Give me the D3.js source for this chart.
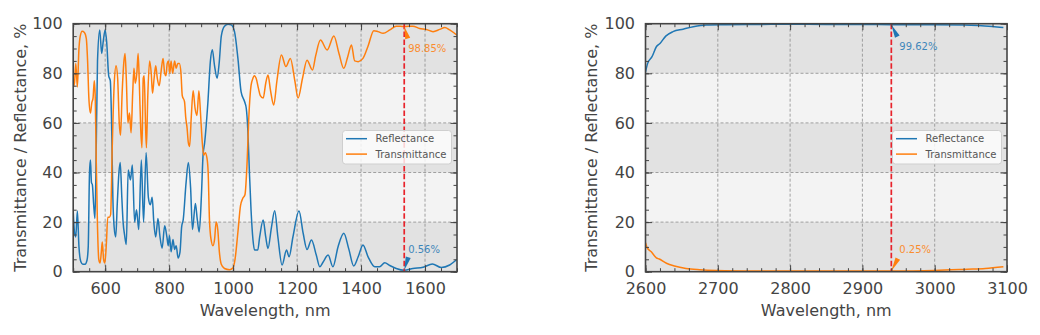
<!DOCTYPE html>
<html><head><meta charset="utf-8">
<script src="https://cdn.jsdelivr.net/npm/d3@7"></script>
<style>body{margin:0;background:#fff;} svg{display:block;font-family:"DejaVu Sans",sans-serif;}</style>
</head><body><svg id="chart" width="1040" height="335"></svg>
<script>
// ---------- DATA ----------
const seriesNames = ["Reflectance", "Transmittance"];
const yTicks = [0, 20, 40, 60, 80, 100];
const visTicks = [600, 800, 1000, 1200, 1400, 1600];
const irTicks = [2600, 2700, 2800, 2900, 3000, 3100];

const visReflWl = [500,504,508,513,518,524,530,537,543,547,551,554,557,560,564,568,571,576,583,589,594,600,605,611,616,620,624,628,633,638,643,647,652,656,661,666,672,679,685,692,698,705,713,720,728,735,741,747,752,758,765,771,778,786,793,797,801,806,812,817,822,828,834,839,844,853,860,867,873,882,888,894,901,906,911,921,929,935,942,950,957,963,973,984,994,1004,1015,1025,1036,1041,1046,1051,1056,1062,1067,1077,1083,1094,1102,1109,1120,1130,1140,1153,1167,1175,1187,1206,1219,1231,1245,1260,1271,1281,1297,1312,1328,1346,1362,1377,1391,1406,1422,1443,1458,1474,1490,1510,1535,1562,1594,1623,1651,1677,1700];
const visReflPct = [24.5,16,14,24.5,10,4,3,3,4.5,10,40,45,36,35,27,21.5,40,85,97.5,88,93,97.5,92,79,77,60,30,18,14,28,40,44,30,20,14.5,11,41,37,43,20,25,17,45,20,48,30,27,30,20,14,21.5,14.5,9.5,18.5,14,10.5,14.5,8,13,9,10.5,5.5,8,18,21,36,44,34,17,27.5,21,16,31,47,52,68,85,89.5,83,78,85,95,99,99.8,99.5,97,86,72.5,68.5,66,57,40,25,13,8.7,8.7,14,20.8,14,9.4,18,24.6,14,2.7,8.7,6,14,24.5,15.5,9,12.8,6.7,2,3.8,6.7,2,10,15.5,9,2.3,6,10.8,6,2,2,3.6,2.5,1.3,0.56,1.3,1.8,3.1,1.7,2.7,5];

const visTransWl = [500,504,508,513,518,522,528,535,541,545,549,554,558,562,566,569,572,576,580,584,588,591,595,599,604,608,613,617,622,628,634,639,644,648,653,658,662,666,671,676,681,686,690,694,699,703,707,711,715,719,722,726,729,733,739,744,748,753,758,763,769,775,781,786,790,794,798,802,806,811,817,822,827,832,837,841,848,852,856,860,864,869,875,881,887,893,898,902,908,913,918,922,926,931,937,942,947,952,957,963,973,989,999,1006,1015,1023,1030,1037,1044,1049,1056,1062,1066,1072,1079,1085,1094,1102,1109,1117,1127,1137,1151,1165,1179,1193,1203,1217,1231,1248,1258,1273,1294,1315,1331,1346,1359,1370,1380,1391,1406,1422,1440,1453,1469,1490,1510,1535,1562,1583,1604,1625,1646,1662,1677,1700];
const visTransPct = [74.5,76,84,74.5,90,95,97,96.5,94,85,70,64,68,70,77,70,45,18,5,3.5,8,12,5,3.5,12,22,22,23,50,75,83,78,60,55,72,84,88,78,60,64,56,72,82,76,80,88,75,58,50,78,79,60,50,70,85,80,72,78,83,78,75,81,86,80,79,84,85,80,85,80,85,82,84,84,80,71,68.6,62,58,52,50.5,62,73,66,63,73,64,55,47,48,46,40,21,13,10.5,13,20,17,8,3,1.3,0.8,1.5,5,16,26.5,29.5,31,45,62,75,78,79,78,74,71,70,76,79.3,73,67.2,77,87.4,82.7,86,77,70,78,85.3,81.3,87,93.4,89.4,95,88,82,87,91.4,85,84.7,86,91,97.2,96.8,96.1,97.5,99,98.85,99,98.1,97.7,96.8,97.7,98.5,97.5,95.4];

const irReflWl = [2600,2603,2609,2615,2620,2628,2638,2652,2666,2684,2712,2760,2800,2850,2900,2940,3000,3040,3060,3080,3095];
const irReflPct = [80.5,84,86.7,90.7,92,95,96.8,97.8,98.8,99.5,99.6,99.7,99.8,99.7,99.7,99.62,99.6,99.5,99.3,98.9,98.5];
const irTransWl = [2600,2602,2608,2615,2619,2629,2640,2656,2675,2698,2750,2850,2940,3000,3045,3070,3095];
const irTransPct = [11.7,9.8,8,5.6,5.1,3.4,2.3,1.3,0.8,0.5,0.3,0.25,0.25,0.5,1.0,1.3,2];

const visMarker = {wl: 1535, refl: 0.56, trans: 98.85};
const irMarker = {wl: 2940, refl: 99.62, trans: 0.25};

// ---------- STYLE ----------
const C_BLUE = "#1f77b4", C_ORANGE = "#ff7f0e", C_TXT = "#444";
const svg = d3.select("#chart");

function panel(cfg) {
  const x = d3.scaleLinear().domain(cfg.xDomain).range(cfg.xRange);
  const y = d3.scaleLinear().domain([0, 100]).range([271.7, 23.7]);
  const [x0, x1] = cfg.xRange, y0 = y(0), y1 = y(100);
  const g = svg.append("g");
  const clipId = "clip" + cfg.id;
  svg.append("clipPath").attr("id", clipId).append("rect")
    .attr("x", x0).attr("y", y1).attr("width", x1 - x0).attr("height", y0 - y1);

  // bands
  g.selectAll("rect.band").data(d3.range(0, 100, 20)).join("rect")
    .attr("x", x0).attr("width", x1 - x0)
    .attr("y", d => y(d + 20)).attr("height", d => y(d) - y(d + 20))
    .attr("fill", d => (d / 20) % 2 === 0 ? "#e2e2e2" : "#f3f3f3");

  // grid
  g.selectAll("line.gx").data(cfg.ticks.filter(t => t > cfg.xDomain[0] && t < cfg.xDomain[1])).join("line")
    .attr("x1", d => x(d)).attr("x2", d => x(d)).attr("y1", y1).attr("y2", y0)
    .attr("stroke", "#8c8c8c").attr("stroke-width", 0.8).attr("stroke-dasharray", "3,2");
  g.selectAll("line.gy").data(yTicks.filter(t => t > 0 && t < 100)).join("line")
    .attr("y1", d => y(d)).attr("y2", d => y(d)).attr("x1", x0).attr("x2", x1)
    .attr("stroke", "#8c8c8c").attr("stroke-width", 0.8).attr("stroke-dasharray", "3,2");

  // curves
  const line = d3.line().x(d => x(d[0])).y(d => y(d[1])).curve(d3.curveMonotoneX);
  const curves = g.append("g").attr("clip-path", `url(#${clipId})`);
  cfg.series.forEach(s => {
    curves.append("path").datum(d3.zip(s.wl, s.pct)).attr("d", line)
      .attr("fill", "none").attr("stroke", s.color).attr("stroke-width", 1.5);
  });

  // marker line
  g.append("line").attr("x1", x(cfg.marker.wl)).attr("x2", x(cfg.marker.wl))
    .attr("y1", y1).attr("y2", y0).attr("stroke", "#e8232b").attr("stroke-width", 1.7)
    .attr("stroke-dasharray", "5.5,2.4");

  // annotations
  cfg.annots.forEach(a => {
    const tx = x(cfg.marker.wl), ty = y(a.val);
    const bx = tx + a.bdx, by = ty + a.bdy;
    const len = Math.hypot(a.bdx, a.bdy), nx = -a.bdy / len * 2.6, ny = a.bdx / len * 2.6;
    g.append("path").attr("d", `M${tx},${ty}L${bx + nx},${by + ny}L${bx - nx},${by - ny}Z`)
      .attr("fill", a.color);
    g.append("text").attr("x", tx + a.tdx).attr("y", ty + a.tdy).text(a.val.toFixed(2) + "%")
      .attr("font-size", 10).attr("fill", a.color).attr("opacity", 0.85);
  });

  // axes (inward ticks)
  const minorX = d3.range(cfg.xDomain[0], cfg.xDomain[1] + 1e-6, cfg.minorStep);
  const minorY = d3.range(0, 100.001, 5);
  const mk = (axis, tr, len, vals, fmt, pad) => {
    const ax = g.append("g").attr("transform", tr)
      .call(axis.tickValues(vals).tickSizeInner(-len).tickSizeOuter(0).tickPadding(pad).tickFormat(fmt));
    ax.select(".domain").remove();
    ax.selectAll("line").attr("stroke", "#444").attr("stroke-width", 1);
    ax.selectAll("text").attr("fill", C_TXT).attr("font-size", 16).attr("font-family", "DejaVu Sans");
    return ax;
  };
  const none = () => "";
  mk(d3.axisBottom(x), `translate(0,${y0})`, 3.5, minorX, none, 0);
  mk(d3.axisTop(x), `translate(0,${y1})`, 3.5, minorX, none, 0);
  mk(d3.axisLeft(y), `translate(${x0},0)`, 3.5, minorY, none, 0);
  mk(d3.axisRight(y), `translate(${x1},0)`, 3.5, minorY, none, 0);
  mk(d3.axisBottom(x), `translate(0,${y0})`, 6.5, cfg.ticks, d3.format("d"), 11.4);
  mk(d3.axisTop(x), `translate(0,${y1})`, 6.5, cfg.ticks, none, 0);
  mk(d3.axisLeft(y), `translate(${x0},0)`, 6.5, yTicks, d3.format("d"), 10.5);
  mk(d3.axisRight(y), `translate(${x1},0)`, 6.5, yTicks, none, 0);

  // spines
  g.append("rect").attr("x", x0).attr("y", y1).attr("width", x1 - x0).attr("height", y0 - y1)
    .attr("fill", "none").attr("stroke", "#444").attr("stroke-width", 1.6);

  // axis labels
  g.append("text").attr("x", (x0 + x1) / 2).attr("y", 315.5).attr("text-anchor", "middle")
    .attr("font-size", 16).attr("fill", C_TXT).text("Wavelength, nm");
  g.append("text").attr("transform", `translate(${cfg.yLabelX},${(y0 + y1) / 2}) rotate(-90)`)
    .attr("text-anchor", "middle").attr("font-size", 16).attr("fill", C_TXT)
    .text("Transmittance / Reflectance, %");

  // legend
  const lx = x1 - 114.5, ly = 130.5;
  const lg = g.append("g");
  lg.append("rect").attr("x", lx).attr("y", ly).attr("width", 109).attr("height", 33.5).attr("rx", 3)
    .attr("fill", "#fff").attr("fill-opacity", 0.8).attr("stroke", "#cfcfcf").attr("stroke-width", 1);
  cfg.series.forEach((s, i) => {
    const yy = ly + 8.2 + i * 15.4;
    lg.append("line").attr("x1", lx + 3.5).attr("x2", lx + 24.5).attr("y1", yy).attr("y2", yy)
      .attr("stroke", s.color).attr("stroke-width", 1.5);
    lg.append("text").attr("x", lx + 33).attr("y", yy + 3.7).attr("font-size", 10).attr("fill", "#555")
      .text(s.name);
  });
}

panel({
  id: "vis", xDomain: [500, 1700], xRange: [73.2, 457], ticks: visTicks, minorStep: 50, yLabelX: 25.5,
  series: [
    {name: seriesNames[0], wl: visReflWl, pct: visReflPct, color: C_BLUE},
    {name: seriesNames[1], wl: visTransWl, pct: visTransPct, color: C_ORANGE}
  ],
  marker: visMarker,
  annots: [
    {val: visMarker.trans, color: C_ORANGE, bdx: 3.5, bdy: 12, tdx: 4, tdy: 25.5},
    {val: visMarker.refl, color: C_BLUE, bdx: 4, bdy: -13, tdx: 4, tdy: -17}
  ]
});
panel({
  id: "ir", xDomain: [2600, 3100], xRange: [645.5, 1007], ticks: irTicks, minorStep: 20, yLabelX: 597,
  series: [
    {name: seriesNames[0], wl: irReflWl, pct: irReflPct, color: C_BLUE},
    {name: seriesNames[1], wl: irTransWl, pct: irTransPct, color: C_ORANGE}
  ],
  marker: irMarker,
  annots: [
    {val: irMarker.refl, color: C_BLUE, bdx: 6, bdy: 12, tdx: 8, tdy: 25.5},
    {val: irMarker.trans, color: C_ORANGE, bdx: 6.5, bdy: -12.5, tdx: 8, tdy: -18}
  ]
});
</script></body></html>
